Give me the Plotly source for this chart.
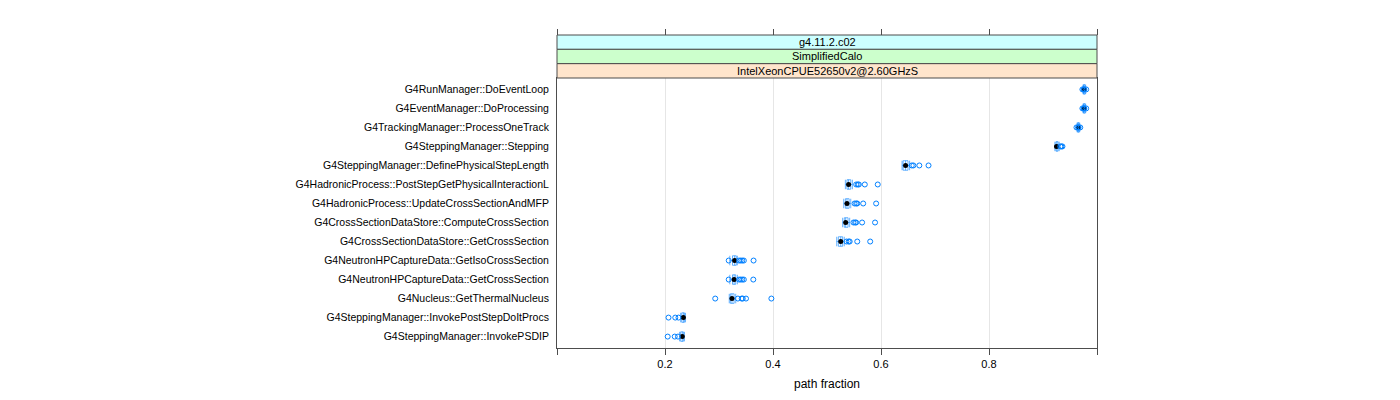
import plotly.graph_objects as go

# rows listed top to bottom
labels = [
    "G4RunManager::DoEventLoop",
    "G4EventManager::DoProcessing",
    "G4TrackingManager::ProcessOneTrack",
    "G4SteppingManager::Stepping",
    "G4SteppingManager::DefinePhysicalStepLength",
    "G4HadronicProcess::PostStepGetPhysicalInteractionL",
    "G4HadronicProcess::UpdateCrossSectionAndMFP",
    "G4CrossSectionDataStore::ComputeCrossSection",
    "G4CrossSectionDataStore::GetCrossSection",
    "G4NeutronHPCaptureData::GetIsoCrossSection",
    "G4NeutronHPCaptureData::GetCrossSection",
    "G4Nucleus::GetThermalNucleus",
    "G4SteppingManager::InvokePostStepDoItProcs",
    "G4SteppingManager::InvokePSDIP",
]
lower = [0.974, 0.974, 0.963, 0.922, 0.639, 0.534, 0.531, 0.529, 0.518, 0.320, 0.320, 0.319, 0.229, 0.227]
q1 = [0.975, 0.975, 0.964, 0.924, 0.641, 0.537, 0.534, 0.532, 0.521, 0.325, 0.325, 0.321, 0.231, 0.229]
median = [0.976, 0.976, 0.9655, 0.925, 0.6455, 0.540, 0.537, 0.5346, 0.5254, 0.329, 0.328, 0.324, 0.234, 0.232]
q3 = [0.978, 0.978, 0.967, 0.928, 0.650, 0.544, 0.541, 0.539, 0.529, 0.332, 0.331, 0.328, 0.236, 0.234]
upper = [0.979, 0.979, 0.968, 0.930, 0.653, 0.547, 0.544, 0.542, 0.532, 0.334, 0.334, 0.331, 0.238, 0.236]
outliers = [
    [0.973, 0.9755, 0.9765, 0.980],
    [0.973, 0.9755, 0.9765, 0.980],
    [0.962, 0.965, 0.966, 0.969],
    [0.932, 0.934, 0.936],
    [0.657, 0.660, 0.671, 0.688],
    [0.554, 0.557, 0.559, 0.570, 0.594],
    [0.551, 0.554, 0.556, 0.567, 0.591],
    [0.549, 0.552, 0.554, 0.565, 0.589],
    [0.536, 0.540, 0.542, 0.556, 0.580],
    [0.318, 0.337, 0.340, 0.343, 0.346, 0.364],
    [0.318, 0.337, 0.340, 0.343, 0.346, 0.3635],
    [0.293, 0.335, 0.342, 0.344, 0.350, 0.397],
    [0.2065, 0.219, 0.225],
    [0.205, 0.218, 0.224],
]
strips = ["g4.11.2.c02", "SimplifiedCalo", "IntelXeonCPUE52650v2@2.60GHzS"]
strip_colors = ["#ccffff", "#ccffcc", "#ffe5cc"]
x_ticks = [0, 0.2, 0.4, 0.6, 0.8, 1.0]
x_ticktext = ["", "0.2", "0.4", "0.6", "0.8", ""]

n = len(labels)
ypos = [n - i for i in range(n)]
BLUE = "#0080ff"
FRAME = "#4d4d4d"
FONT = "Liberation Sans"

fig = go.Figure()
fig.add_trace(go.Box(
    y=ypos, q1=q1, median=median, q3=q3, lowerfence=lower, upperfence=upper,
    orientation="h", width=0.5, whiskerwidth=1,
    line=dict(color="rgba(0,128,255,0.6)", width=1),
    fillcolor="rgba(0,0,0,0)", showlegend=False, hoverinfo="skip",
))
fig.add_trace(go.Scatter(
    x=median, y=ypos, mode="markers", showlegend=False,
    marker=dict(symbol="circle", size=5, color="black"),
))
ox, oy = [], []
for yp, vals in zip(ypos, outliers):
    for v in vals:
        ox.append(v)
        oy.append(yp)
fig.add_trace(go.Scatter(
    x=ox, y=oy, mode="markers", showlegend=False,
    marker=dict(symbol="circle-open", size=5, color=BLUE, line=dict(width=1, color=BLUE)),
))
# dummy trace so the top tick axis exists
fig.add_trace(go.Scatter(x=[None], y=[None], xaxis="x2", yaxis="y", showlegend=False))

H, W = 400, 1400
OFF = 8  # page body offset
top_px, bot_px = 35, 348
panel_top = 78
plot_h = bot_px - top_px
ydom_top = (bot_px - panel_top) / plot_h

fig.update_layout(
    width=W, height=H,
    margin=dict(l=557 - OFF, r=303 + OFF, t=top_px - OFF, b=H - bot_px + OFF),
    paper_bgcolor="white", plot_bgcolor="white",
    font=dict(family=FONT, size=10, color="black"),
    xaxis=dict(
        range=[0, 1], tickvals=x_ticks, ticktext=x_ticktext,
        ticks="outside", ticklen=6, tickcolor=FRAME, tickwidth=1,
        showline=True, linecolor=FRAME, linewidth=1, mirror=True,
        showgrid=True, gridcolor="#e6e6e6", gridwidth=1, zeroline=False,
        title=dict(text="path fraction", font=dict(size=12, family=FONT), standoff=10),
        tickfont=dict(size=11, family=FONT),
    ),
    xaxis2=dict(
        range=[0, 1], tickvals=x_ticks, overlaying="x", anchor="free", position=1.0,
        side="top", ticks="outside", ticklen=6, tickcolor=FRAME, tickwidth=1,
        showticklabels=False, showgrid=False, showline=False, zeroline=False,
    ),
    yaxis=dict(
        domain=[0, ydom_top], range=[0.4, n + 0.6],
        tickvals=ypos, ticktext=labels,
        ticks="outside", ticklen=5, tickcolor="rgba(0,0,0,0)",
        showline=True, linecolor=FRAME, linewidth=1, mirror=True,
        showgrid=False, zeroline=False,
        tickfont=dict(size=10.5, family=FONT),
    ),
)

# strips
sh = (1 - ydom_top) / len(strips)
for i, (txt, col) in enumerate(zip(strips, strip_colors)):
    y1 = 1 - i * sh
    y0 = y1 - sh
    fig.add_shape(type="rect", xref="paper", yref="paper", x0=0, x1=1, y0=y0, y1=y1,
                  fillcolor=col, line=dict(color=FRAME, width=1), layer="above")
    fig.add_annotation(text=txt, xref="paper", yref="paper", x=0.5, y=(y0 + y1) / 2,
                       showarrow=False, font=dict(size=11, family=FONT, color="black"),
                       xanchor="center", yanchor="middle")

fig.write_html("out.html")
